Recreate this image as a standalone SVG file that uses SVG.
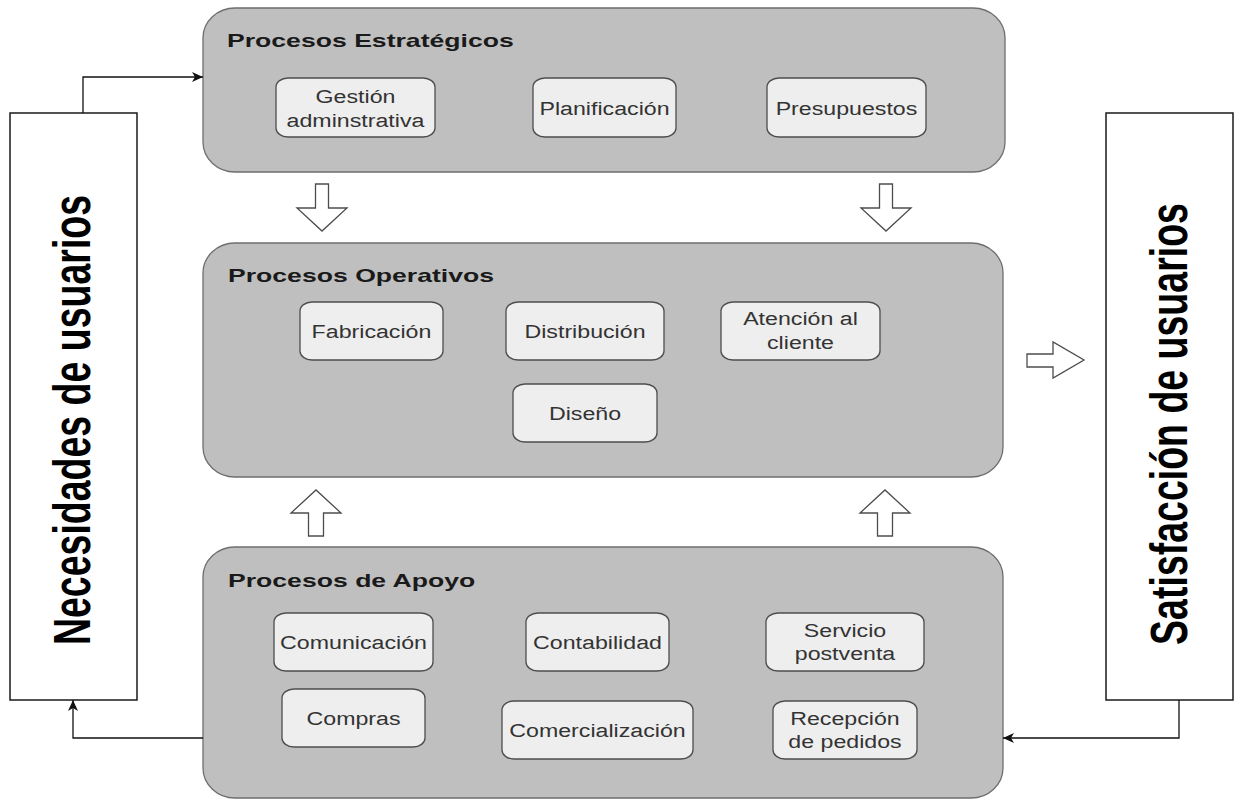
<svg xmlns="http://www.w3.org/2000/svg" width="1234" height="800" viewBox="0 0 1234 800">
  <style>
    .group { fill: #bfbfbf; stroke: #6e6e6e; stroke-width: 1.3; }
    .item { fill: #eeeeee; stroke: #4d4d4d; stroke-width: 1.3; }
    .side { fill: #ffffff; stroke: #1a1a1a; stroke-width: 1.5; }
    .block { fill: #ffffff; stroke: #4d4d4d; stroke-width: 1.3; stroke-linejoin: miter; }
    .title { font-family: "Liberation Sans", Arial, sans-serif; font-weight: bold; font-size: 19px; fill: #1a1a1a; }
    .lbl { font-family: "Liberation Sans", Arial, sans-serif; font-size: 19px; fill: #333333; text-anchor: middle; }
    .big { font-family: "Liberation Sans", Arial, sans-serif; font-weight: bold; font-size: 37.5px; fill: #000000; text-anchor: middle; }
    .link { fill: none; stroke: #111111; stroke-width: 1.3; marker-end: url(#head); }
  </style>
  <defs>
    <marker id="head" markerUnits="userSpaceOnUse" markerWidth="12" markerHeight="10" refX="11" refY="5" orient="auto">
      <path d="M0,0 L11,5 L0,10 L3,5 Z" fill="#111111"/>
    </marker>
  </defs>

  <rect width="1234" height="800" fill="#ffffff"/>

  <!-- side panels -->
  <g id="necesidades">
    <rect class="side" x="10" y="113" width="127" height="587"/>
    <text class="big" transform="translate(90,420) rotate(-90) scale(1,1.38)">Necesidades de usuarios</text>
  </g>
  <g id="satisfaccion">
    <rect class="side" x="1106" y="113" width="127" height="587"/>
    <text class="big" transform="translate(1187,424) rotate(-90) scale(1,1.38)">Satisfacción de usuarios</text>
  </g>

  <!-- strategic processes -->
  <g id="estrategicos">
    <rect class="group" x="203" y="8" width="802" height="164" rx="32" ry="30"/>
    <text class="title" transform="translate(227,47) scale(1.4,1)">Procesos Estratégicos</text>
    <g id="gestion">
      <rect class="item" x="276" y="78" width="159" height="59" rx="12" ry="9"/>
      <text class="lbl" transform="translate(355.5,103) scale(1.22,1)"><tspan x="0">Gestión</tspan><tspan x="0" dy="24">adminstrativa</tspan></text>
    </g>
    <g id="planificacion">
      <rect class="item" x="533" y="78" width="143" height="59" rx="12" ry="9"/>
      <text class="lbl" transform="translate(604.5,114.5) scale(1.22,1)">Planificación</text>
    </g>
    <g id="presupuestos">
      <rect class="item" x="767" y="78" width="159" height="59" rx="12" ry="9"/>
      <text class="lbl" transform="translate(846.5,114.5) scale(1.22,1)">Presupuestos</text>
    </g>
  </g>

  <!-- operational processes -->
  <g id="operativos">
    <rect class="group" x="203" y="243" width="800" height="234" rx="32" ry="30"/>
    <text class="title" transform="translate(228,282) scale(1.4,1)">Procesos Operativos</text>
    <g id="fabricacion">
      <rect class="item" x="300" y="302" width="143" height="58" rx="12" ry="9"/>
      <text class="lbl" transform="translate(371.5,338) scale(1.22,1)">Fabricación</text>
    </g>
    <g id="distribucion">
      <rect class="item" x="506" y="302" width="158" height="58" rx="12" ry="9"/>
      <text class="lbl" transform="translate(585,338) scale(1.22,1)">Distribución</text>
    </g>
    <g id="atencion">
      <rect class="item" x="721" y="302" width="159" height="58" rx="12" ry="9"/>
      <text class="lbl" transform="translate(800.5,325) scale(1.22,1)"><tspan x="0">Atención al</tspan><tspan x="0" dy="24">cliente</tspan></text>
    </g>
    <g id="diseno">
      <rect class="item" x="513" y="384" width="144" height="58" rx="12" ry="9"/>
      <text class="lbl" transform="translate(585,420) scale(1.22,1)">Diseño</text>
    </g>
  </g>

  <!-- support processes -->
  <g id="apoyo">
    <rect class="group" x="203" y="547" width="800" height="251" rx="32" ry="30"/>
    <text class="title" transform="translate(228,587) scale(1.4,1)">Procesos de Apoyo</text>
    <g id="comunicacion">
      <rect class="item" x="274" y="613" width="159" height="58" rx="12" ry="9"/>
      <text class="lbl" transform="translate(353.5,649) scale(1.22,1)">Comunicación</text>
    </g>
    <g id="contabilidad">
      <rect class="item" x="526" y="613" width="143" height="58" rx="12" ry="9"/>
      <text class="lbl" transform="translate(597.5,649) scale(1.22,1)">Contabilidad</text>
    </g>
    <g id="servicio">
      <rect class="item" x="766" y="613" width="158" height="58" rx="12" ry="9"/>
      <text class="lbl" transform="translate(845,637) scale(1.22,1)"><tspan x="0">Servicio</tspan><tspan x="0" dy="23">postventa</tspan></text>
    </g>
    <g id="compras">
      <rect class="item" x="282" y="689" width="143" height="58" rx="12" ry="9"/>
      <text class="lbl" transform="translate(353.5,725) scale(1.22,1)">Compras</text>
    </g>
    <g id="comercializacion">
      <rect class="item" x="502" y="701" width="191" height="58" rx="12" ry="9"/>
      <text class="lbl" transform="translate(597.5,737) scale(1.22,1)">Comercialización</text>
    </g>
    <g id="recepcion">
      <rect class="item" x="773" y="701" width="144" height="58" rx="12" ry="9"/>
      <text class="lbl" transform="translate(845,725) scale(1.22,1)"><tspan x="0">Recepción</tspan><tspan x="0" dy="23">de pedidos</tspan></text>
    </g>
  </g>

  <!-- connectors: outlined flow arrows and feedback lines -->
  <g id="connectors">
    <path class="block" d="M315.5,184 H328.5 V208 H347 L322,231 L297,208 H315.5 Z"/>
    <path class="block" d="M879.5,184 H892.5 V208 H911 L886,231 L861,208 H879.5 Z"/>
    <path class="block" d="M308.5,536 H323.5 V513 H341 L316,490 L291,513 H308.5 Z"/>
    <path class="block" d="M877.5,536 H892.5 V513 H910 L885,490 L860,513 H877.5 Z"/>
    <path class="block" d="M1027,354 H1053 V342 L1084,360 L1053,378 V367 H1027 Z"/>
    <path class="link" d="M83,113 V77 H203"/>
    <path class="link" d="M203,738 H73 V700"/>
    <path class="link" d="M1179,700 V738 H1003"/>
  </g>
</svg>
